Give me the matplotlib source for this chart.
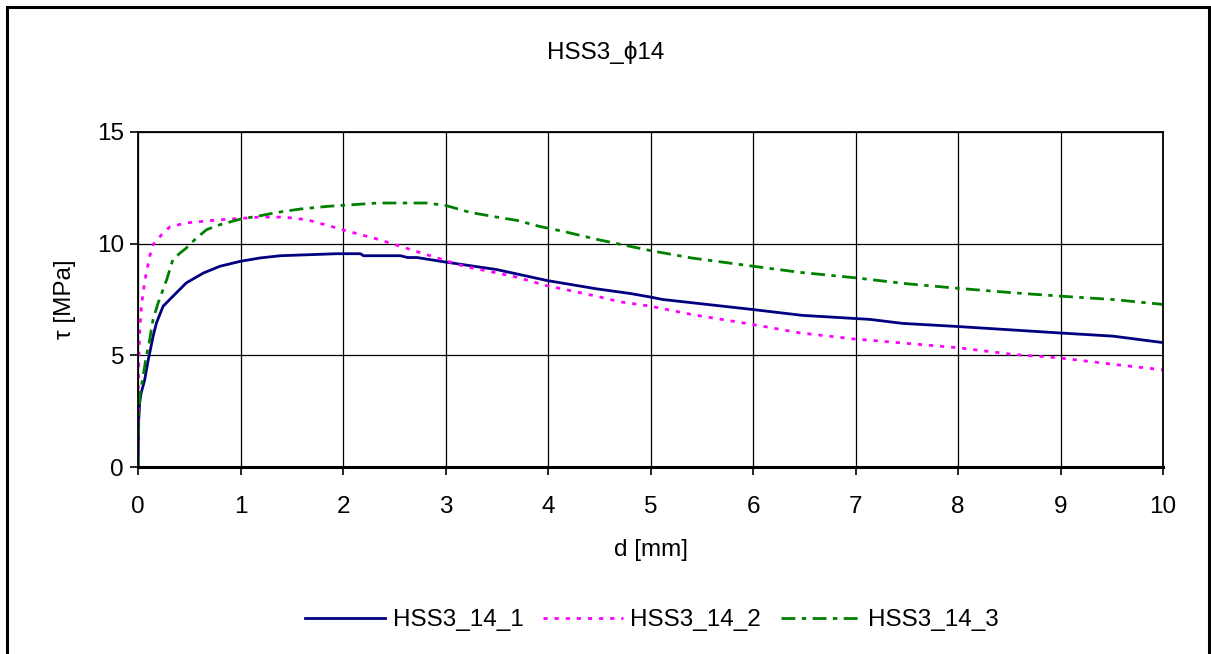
import matplotlib
matplotlib.use("Agg")
import matplotlib.pyplot as plt
from matplotlib.patches import Rectangle

plt.rcParams['font.family'] = ['Liberation Sans', 'DejaVu Sans']

# Bond stress - slip curves, specimen series HSS3 with 14 mm bars
d_1 = [0.0, 0.007, 0.016, 0.03, 0.065, 0.10, 0.114, 0.147, 0.18, 0.245, 0.34, 0.47,
       0.64, 0.80, 1.00, 1.19, 1.39, 1.94, 2.17, 2.20, 2.56, 2.63, 2.72, 3.01, 3.50,
       3.99, 4.47, 4.80, 5.00, 5.12, 6.00, 6.48, 7.14, 7.46, 8.00, 9.00, 9.51, 10.0]
tau_1 = [0.0, 2.1, 2.87, 3.3, 3.9, 4.8, 5.1, 5.85, 6.45, 7.2, 7.64, 8.24,
         8.69, 8.99, 9.21, 9.36, 9.46, 9.55, 9.55, 9.46, 9.46, 9.38, 9.38, 9.17, 8.84,
         8.35, 7.98, 7.77, 7.61, 7.50, 7.05, 6.79, 6.61, 6.43, 6.29, 6.00, 5.86, 5.57]

d_2 = [0.0, 0.003, 0.01, 0.016, 0.033, 0.049, 0.075, 0.114, 0.147, 0.23, 0.31, 0.47,
       0.80, 1.00, 1.19, 1.42, 1.65, 1.88, 2.01, 2.11, 2.34, 2.85, 3.18, 3.66, 3.99,
       4.47, 4.70, 5.00, 5.40, 6.00, 6.45, 6.97, 7.49, 8.00, 8.54, 9.00, 9.51, 10.0]
tau_2 = [0.0, 3.6, 5.1, 6.0, 7.19, 7.79, 8.54, 9.43, 9.96, 10.4, 10.75, 10.93,
         11.07, 11.13, 11.19, 11.19, 11.07, 10.78, 10.6, 10.48, 10.2, 9.46, 8.99, 8.54, 8.12,
         7.65, 7.40, 7.20, 6.83, 6.38, 6.01, 5.74, 5.54, 5.34, 5.04, 4.88, 4.60, 4.35]

d_3 = [0.0, 0.003, 0.02, 0.05, 0.075, 0.114, 0.147, 0.196, 0.28, 0.34, 0.41, 0.47,
       0.57, 0.67, 0.80, 1.00, 1.19, 1.36, 1.58, 1.85, 2.11, 2.34, 2.53, 2.82, 2.92,
       3.01, 3.24, 3.50, 3.70, 3.92, 4.15, 4.47, 4.80, 5.00, 5.40, 6.00, 6.45, 7.00,
       7.49, 8.00, 8.54, 9.00, 9.51, 10.0]
tau_3 = [0.0, 2.1, 3.3, 4.06, 4.8, 5.7, 6.6, 7.34, 8.39, 9.28, 9.58, 9.8,
         10.25, 10.63, 10.85, 11.1, 11.25, 11.4, 11.55, 11.67, 11.75, 11.82, 11.82, 11.82, 11.76,
         11.7, 11.4, 11.19, 11.04, 10.77, 10.55, 10.2, 9.88, 9.69, 9.36, 8.99, 8.72, 8.47,
         8.21, 8.0, 7.8, 7.65, 7.5, 7.28]

series_labels = ['HSS3_14_1', 'HSS3_14_2', 'HSS3_14_3']
x_ticks = [0, 1, 2, 3, 4, 5, 6, 7, 8, 9, 10]
y_ticks = [0, 5, 10, 15]

FS = 17.5

fig = plt.figure(figsize=(12.11, 6.54), dpi=100)
ax = fig.add_axes([138 / 1211, 1 - 467 / 654, (1163 - 138) / 1211, (467 - 132) / 654])

ax.plot(d_1, tau_1, color='#000080', lw=2.0, ls='-', label=series_labels[0])
ax.plot(d_2, tau_2, color='#FF00FF', lw=2.0, ls=(0, (1.5, 2.5)), label=series_labels[1])
ax.plot(d_3, tau_3, color='#008000', lw=2.0, ls=(0, (5, 2.3, 1.6, 2.3)), label=series_labels[2])

ax.set_xlim(0, 10)
ax.set_ylim(0, 15)
ax.set_xticks(x_ticks)
ax.set_yticks(y_ticks)
ax.grid(True, color='black', lw=0.9)
ax.set_axisbelow(True)
ax.tick_params(axis='both', direction='out', length=6, width=1.2, labelsize=FS, colors='black')
ax.tick_params(axis='x', pad=15)
ax.tick_params(axis='y', pad=4)
for side in ['left', 'top', 'right']:
    ax.spines[side].set_linewidth(1.3)
ax.spines['bottom'].set_linewidth(2.2)

ax.set_xlabel('d [mm]', fontsize=FS, labelpad=15)
ax.set_ylabel('τ [MPa]', fontsize=FS, labelpad=15)

fig.text(0.5, 1 - 53 / 654, 'HSS3_ϕ14', ha='center', va='center', fontsize=FS)

fig.legend(loc='center', bbox_to_anchor=(652 / 1211, 1 - 620 / 654), ncol=3, frameon=False,
           fontsize=FS, handlelength=3.3, handletextpad=0.3, columnspacing=0.8)

# outer frame around the whole chart
fig.patches.append(Rectangle((7 / 1211, -0.05), (1209 - 7) / 1211, 1 - 7 / 654 + 0.05,
                             transform=fig.transFigure, fill=False, edgecolor='black',
                             lw=2.2, zorder=10))

fig.savefig('out.png', dpi=100)
